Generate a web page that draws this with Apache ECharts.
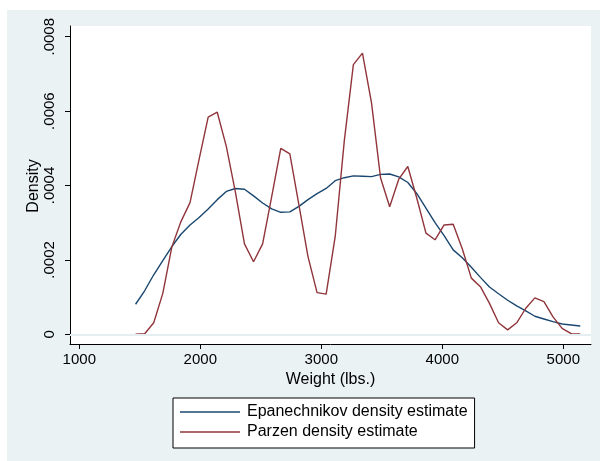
<!DOCTYPE html>
<html>
<head>
<meta charset="utf-8">
<script src="https://cdn.jsdelivr.net/npm/echarts@6/dist/echarts.min.js"></script>
<style>
html,body{margin:0;padding:0;background:#fff;}
#bg{position:absolute;left:7px;top:10px;width:593px;height:451px;background:#eaf2f3;}
#chart{position:absolute;left:0;top:0;width:600px;height:461px;}
</style>
</head>
<body>
<div id="bg"></div>
<div id="chart"></div>
<script>
// Evaluation points (Weight, lbs.)
const weights = [1465,1540,1615,1690,1765,1840,1915,1990,2065,2140,
  2215,2290,2365,2440,2515,2590,2665,2740,2815,2890,
  2965,3040,3115,3190,3265,3340,3415,3490,3565,3640,
  3715,3790,3865,3940,4015,4090,4165,4240,4315,4390,
  4465,4540,4615,4690,4765,4840,4915,4990,5065,5140];

const epanechnikov = [0.0000808,0.000117,0.000160,0.000198,0.000236,0.000269,0.000294,0.000314,0.000337,0.000362,
  0.000384,0.000392,0.000390,0.000372,0.000353,0.000337,0.000328,0.000329,0.000344,0.000362,
  0.000378,0.000392,0.000413,0.000421,0.000426,0.000425,0.000424,0.000430,0.000431,0.000423,
  0.000408,0.000378,0.000339,0.000300,0.000265,0.000227,0.000206,0.000180,0.000153,0.000127,
  0.000109,0.0000915,0.0000762,0.0000627,0.0000485,0.0000412,0.0000339,0.0000277,0.000025,0.0000223];

const parzen = [0,0.0000016,0.000031,0.000110,0.000235,0.000303,0.000354,0.000470,0.000584,0.000597,
  0.000505,0.000382,0.000243,0.000195,0.000243,0.000370,0.000500,0.000485,0.000348,0.000209,
  0.000112,0.000108,0.000263,0.000520,0.000725,0.000756,0.000622,0.000420,0.000343,0.000417,
  0.000451,0.000365,0.000272,0.000254,0.000294,0.000296,0.000230,0.000151,0.000128,0.000083,
  0.000031,0.000012,0.000031,0.000070,0.000098,0.000088,0.000047,0.000016,0.0000016,0.0000008];

const xTicks = [1000,2000,3000,4000,5000];
const yTicks = [0,0.0002,0.0004,0.0006,0.0008];
const yTickLabels = ['0','.0002','.0004','.0006','.0008'];

const xTitle = 'Weight (lbs.)';
const yTitle = 'Density';
const seriesNames = ['Epanechnikov density estimate','Parzen density estimate'];
const seriesColors = ['#1a476f','#90353b'];

const FONT = 'Liberation Sans, Arial, Helvetica, sans-serif';

function pairs(xs, ys){ return xs.map((x,i)=>[x, ys[i]]); }

const chart = echarts.init(document.getElementById('chart'), null, {renderer:'canvas'});
chart.setOption({
  animation:false,
  backgroundColor:'transparent',
  grid:{left:70, top:26, right:9, bottom:117, show:true, backgroundColor:'#ffffff', borderWidth:0},
  graphic:[{
    type:'text', x:33.5, y:186, rotation:Math.PI/2,
    style:{text:yTitle, fontFamily:FONT, fontSize:16, fill:'#000', align:'center', verticalAlign:'middle'}
  }],
  xAxis:{
    type:'value', min:923.1, max:5228.9,
    name:xTitle, nameLocation:'middle', nameGap:28,
    nameTextStyle:{fontFamily:FONT, fontSize:16, color:'#000'},
    axisLine:{show:true, onZero:false, lineStyle:{color:'#000', width:1}},
    axisTick:{show:true, length:5, customValues:xTicks, lineStyle:{color:'#000'}},
    axisLabel:{customValues:xTicks, margin:8, fontFamily:FONT, fontSize:15, color:'#000',
      formatter:(v)=>String(v)},
    splitLine:{show:false}
  },
  yAxis:{
    type:'value', min:-0.0000261, max:0.0008288,
    axisLine:{show:true, onZero:false, lineStyle:{color:'#000', width:1}},
    axisTick:{show:true, length:5, customValues:yTicks, lineStyle:{color:'#000'}},
    axisLabel:{customValues:yTicks, rotate:90, margin:13, fontFamily:FONT, fontSize:15, color:'#000',
      formatter:(v)=>{
        let best=0; for(let i=0;i<yTicks.length;i++){ if(Math.abs(yTicks[i]-v)<Math.abs(yTicks[best]-v)) best=i; }
        return yTickLabels[best];
      }},
    splitLine:{show:false}
  },
  legend:{
    data:seriesNames.map((n,i)=>({name:n, icon:'rect', itemStyle:{color:seriesColors[i]}})),
    orient:'vertical', left:173, top:398,
    padding:[6,7,8,7], itemGap:4, itemWidth:60, itemHeight:1.5,
    backgroundColor:'#fff', borderColor:'#000', borderWidth:1, borderRadius:0,
    textStyle:{fontFamily:FONT, fontSize:16, color:'#000', padding:[0,0,0,2], lineHeight:16}
  },
  series:[
    {
      name:seriesNames[0], type:'line', data:pairs(weights, epanechnikov),
      symbol:'none', smooth:false, lineStyle:{color:seriesColors[0], width:1.4}, itemStyle:{color:seriesColors[0]},
      z:3,
      markLine:{
        silent:true, symbol:['none','none'], label:{show:false},
        lineStyle:{color:'#e5eef0', width:1.5, type:'solid'},
        data: yTicks.map(v=>({yAxis:v})),
        emphasis:{disabled:true}
      }
    },
    {
      name:seriesNames[1], type:'line', data:pairs(weights, parzen),
      symbol:'none', smooth:false, lineStyle:{color:seriesColors[1], width:1.4}, itemStyle:{color:seriesColors[1]},
      z:4
    }
  ]
});
</script>
</body>
</html>
